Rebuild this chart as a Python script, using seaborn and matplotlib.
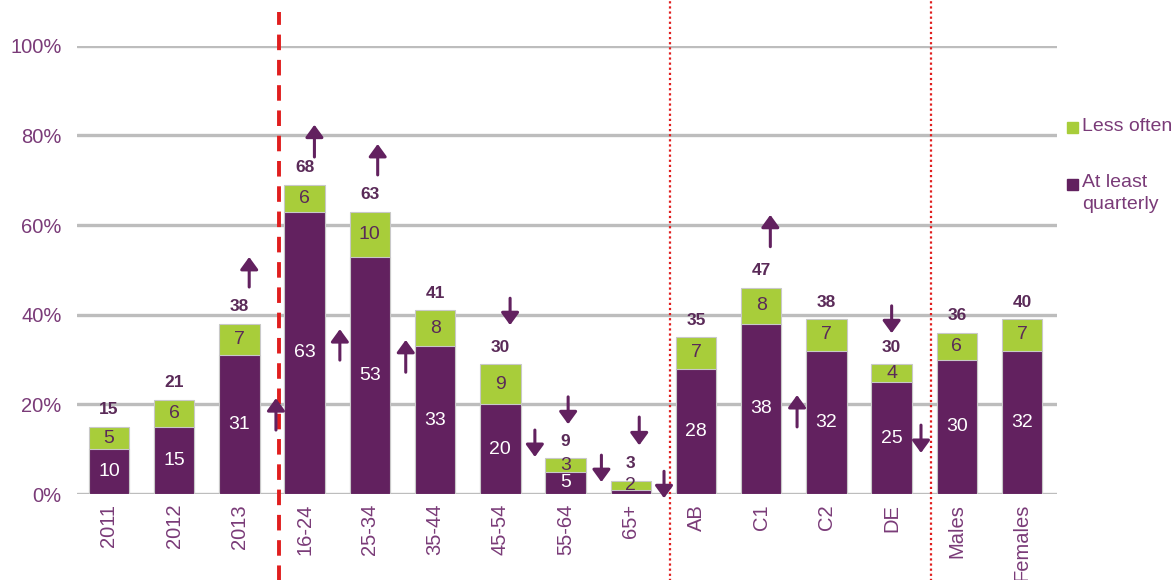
import matplotlib
matplotlib.use("Agg")
import matplotlib.pyplot as plt
from matplotlib.patches import Rectangle
import pandas as pd
import seaborn as sns

# data
categories = ["2011", "2012", "2013", "16-24", "25-34", "35-44", "45-54", "55-64",
              "65+", "AB", "C1", "C2", "DE", "Males", "Females"]
quarterly = [10, 15, 31, 63, 53, 33, 20, 5, 1, 28, 38, 32, 25, 30, 32]
less_often = [5, 6, 7, 6, 10, 8, 9, 3, 2, 7, 8, 7, 4, 6, 7]
totals = [15, 21, 38, 68, 63, 41, 30, 9, 3, 35, 47, 38, 30, 36, 40]
series_names = ["Less often", "At least\nquarterly"]

# significance arrows: (x position, tail %, head %)
arrows_up = [(2.15, 46.2, 52.9), (2.56, 14.3, 21.4), (3.15, 75.2, 82.4), (3.54, 29.9, 36.8),
             (4.12, 71.2, 78.1), (4.55, 27.2, 34.4), (10.14, 55.2, 62.3), (10.55, 15.0, 22.1)]
arrows_down = [(6.15, 43.7, 37.7), (6.53, 14.3, 8.3), (7.04, 21.7, 15.6), (7.55, 8.7, 2.7),
               (8.13, 17.2, 10.9), (8.51, 5.1, -0.9), (12.0, 42.0, 35.9), (12.45, 15.4, 9.2)]

PURPLE = "#62215F"
GREEN = "#A8CD3A"
TXT = "#7A3B78"
DARK = "#5A2A58"

sns.set_style("white")
plt.rcParams["font.family"] = ["Liberation Sans", "DejaVu Sans"]

df = pd.DataFrame({"cat": categories, "q": quarterly, "l": less_often})
df["top"] = df["q"] + df["l"]

fig = plt.figure(figsize=(11.74, 5.8), dpi=100)
ax = fig.add_axes([0.0656, 0.148, 0.835, 0.773])

# gridlines behind bars
for v in range(0, 101, 20):
    ax.axhline(v, color="#BDBDBD", lw=2.4, zorder=0)

sns.barplot(data=df, x="cat", y="top", color=GREEN, width=0.62, ax=ax,
            edgecolor="#C8C8C8", linewidth=0.8, saturation=1, zorder=2)
sns.barplot(data=df, x="cat", y="q", color=PURPLE, width=0.62, ax=ax,
            edgecolor="#C8C8C8", linewidth=0.8, saturation=1, zorder=3)

for i, (q, l, t) in enumerate(zip(quarterly, less_often, totals)):
    if q >= 3:
        ax.text(i, q / 2, str(q), ha="center", va="center", color="white", fontsize=14, zorder=5)
    ax.text(i, q + l / 2, str(l), ha="center", va="center", color=DARK, fontsize=14, zorder=5)
    ax.text(i, q + l + 3.8, str(t), ha="center", va="center", color=DARK,
            fontsize=12.5, fontweight="bold", zorder=5)

for x, y0, y1 in arrows_up + arrows_down:
    ax.annotate("", xy=(x, y1), xytext=(x, y0),
                arrowprops=dict(arrowstyle="-|>,head_length=0.55,head_width=0.4", color=PURPLE,
                                lw=2.2, mutation_scale=13.5, shrinkA=0, shrinkB=0),
                zorder=6, annotation_clip=False)

# separators
ax.axvline(2.6, ymin=-0.2, ymax=1.076, color="#E01E1E", lw=2.8, ls=(0, (4, 2.5)),
           clip_on=False, zorder=4)
for x in [8.6, 12.6]:
    ax.axvline(x, ymin=-0.2, ymax=1.11, color="#E01E1E", lw=1.6, ls=(0, (1, 1.3)),
               clip_on=False, zorder=4)

ax.set_xlim(-0.49, 14.54)
ax.set_ylim(0, 100)
ax.set_yticks(range(0, 101, 20))
ax.set_yticklabels([f"{v}%" for v in range(0, 101, 20)], color=TXT, fontsize=14.5)
ax.set_xticks(range(len(categories)))
ax.set_xticklabels(categories, rotation=90, color=TXT, fontsize=14.5)
ax.tick_params(axis="x", length=0, pad=7)
ax.tick_params(axis="y", length=0, pad=11)
ax.set_xlabel("")
ax.set_ylabel("")
sns.despine(ax=ax, left=True, bottom=True)

# legend drawn by hand so the square sits next to the first line
W, H = 1174.0, 580.0
for name, col, yc in zip(series_names, [GREEN, PURPLE], [128, 184]):
    fig.add_artist(Rectangle((1067 / W, 1 - (yc + 5.5) / H), 11 / W, 11 / H,
                             transform=fig.transFigure, color=col))
    fig.text(1082 / W, 1 - (yc - 10) / H, name, ha="left", va="top", color=TXT,
             fontsize=14, linespacing=1.35)

fig.savefig("out.png", dpi=100)
